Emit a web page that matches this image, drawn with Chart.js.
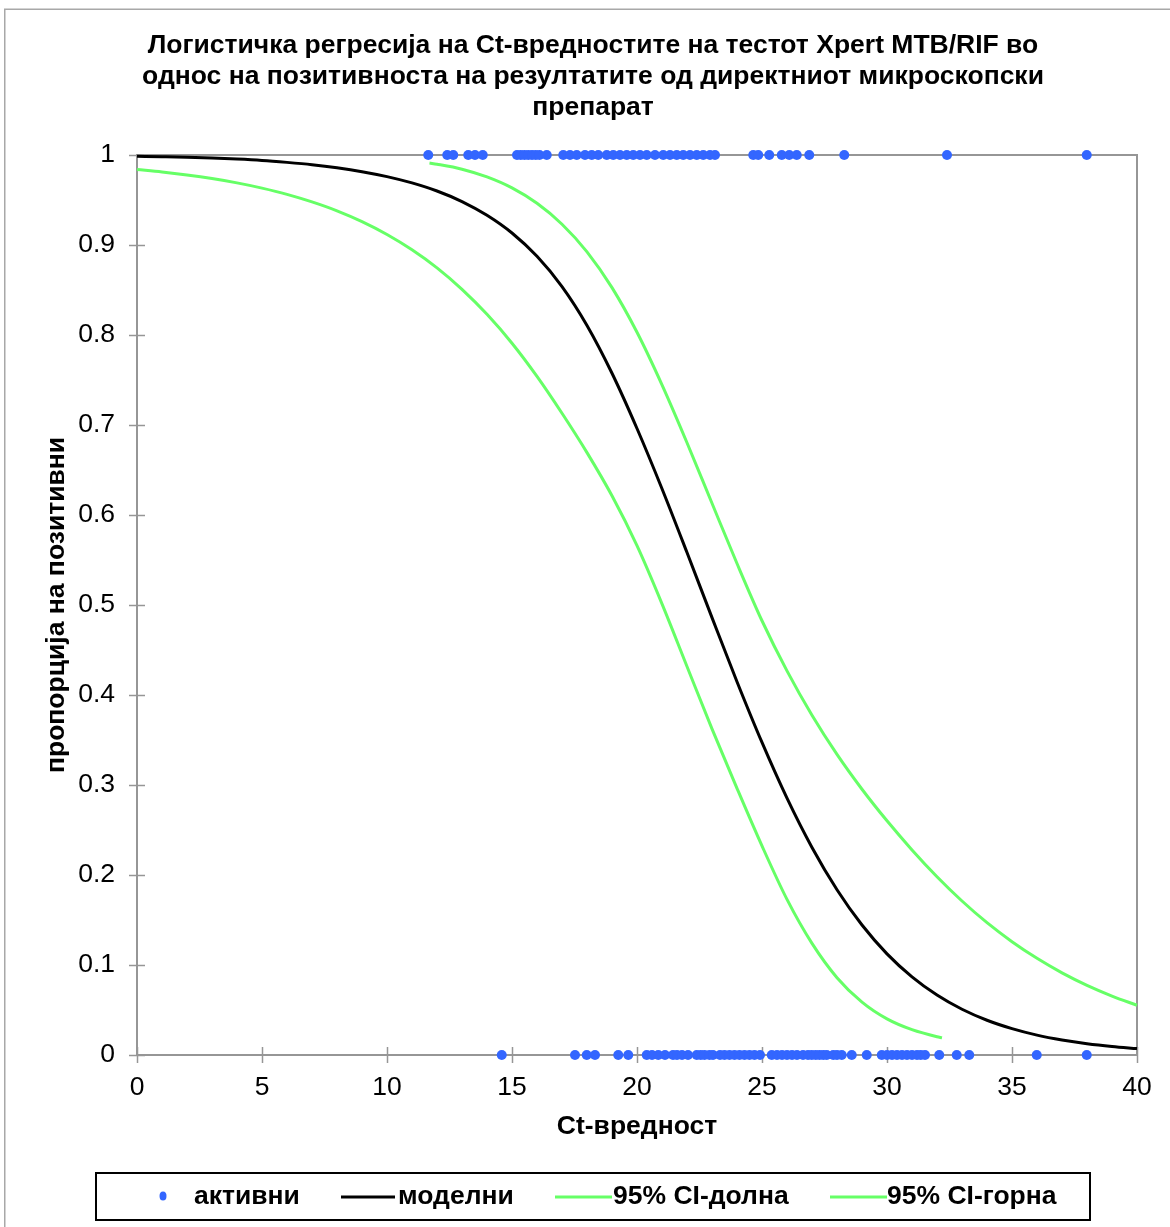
<!DOCTYPE html>
<html>
<head>
<meta charset="utf-8">
<script src="https://cdn.jsdelivr.net/npm/chart.js@4.4.1/dist/chart.umd.min.js"></script>
<style>
  html, body { margin: 0; padding: 0; background: #fff; }
  #wrap { width: 1170px; height: 1227px; position: relative; }
</style>
</head>
<body>
<div id="wrap"><canvas id="c" width="1170" height="1227"></canvas></div>
<script>
// Title and axis captions
const titleLines = [
  'Логистичка регресија на Ct-вредностите на тестот Xpert MTB/RIF во',
  'однос на позитивноста на резултатите од директниот микроскопски',
  'препарат'
];
const xAxisTitle = 'Ct-вредност';
const yAxisTitle = 'пропорција на позитивни';
const legendLabels = ['активни', 'моделни', '95% CI-долна', '95% CI-горна'];

// Observed Ct values of samples with a positive smear (plotted at 1)
const positiveCt = [
  11.65, 12.41, 12.65, 13.25, 13.52, 13.83,
  15.2, 15.35, 15.5, 15.65, 15.8, 15.95, 16.1, 16.39,
  17.05, 17.32, 17.59, 17.92, 18.19, 18.45, 18.79, 19.05, 19.32, 19.59,
  19.85, 20.12, 20.39, 20.72, 21.05, 21.32, 21.59, 21.85, 22.12, 22.39,
  22.65, 22.92, 23.12,
  24.65, 24.85, 25.29, 25.79, 26.09, 26.39, 26.89, 28.29, 32.4, 37.99
];
// Observed Ct values of samples with a negative smear (plotted at 0)
const negativeCt = [
  14.59, 17.52, 17.99, 18.32, 19.25, 19.65,
  20.39, 20.6, 20.85, 21.12, 21.44, 21.6, 21.8, 22.04, 22.39, 22.55, 22.7,
  22.9, 23.04, 23.32, 23.5, 23.7, 23.9, 24.1, 24.3, 24.5, 24.7, 24.92,
  25.39, 25.6, 25.8, 26.0, 26.2, 26.4, 26.64, 26.84, 26.99, 27.15, 27.3,
  27.45, 27.59, 27.85, 28.0, 28.19, 28.59, 29.19, 29.79, 30.0, 30.2, 30.4,
  30.6, 30.8, 31.0, 31.2, 31.35, 31.52, 32.09, 32.79, 33.29, 35.99, 37.99
];

// Fitted logistic model
const modelCt = [0, 1, 2, 3, 4, 5, 6, 7, 8, 9, 10, 11, 12, 13, 14, 15, 16, 17, 18, 19, 20,
  21, 22, 23, 24, 25, 26, 27, 28, 29, 30, 31, 32, 33, 34, 35, 36, 37, 38, 39, 40];
const modelP = [0.9986, 0.9981, 0.9975, 0.9966, 0.9955, 0.9940, 0.9918, 0.9892, 0.9858, 0.9815,
  0.9760, 0.9690, 0.9600, 0.9483, 0.9330, 0.9133, 0.8874, 0.8538, 0.8106, 0.7575,
  0.6961, 0.6292, 0.5583, 0.4860, 0.4148, 0.3473, 0.2854, 0.2306, 0.1836, 0.1444,
  0.1124, 0.0868, 0.0666, 0.0508, 0.0386, 0.0293, 0.0221, 0.0167, 0.0126, 0.0095, 0.0071];

// 95% confidence band, lower limit
const lowerCt = [0, 1, 2, 3, 4, 5, 6, 7, 8, 9, 10, 11, 12, 13, 14, 15, 16, 17, 18, 19, 20,
  21, 22, 23, 24, 25, 26, 27, 28, 29, 30, 31, 32, 32.2];
const lowerP = [0.9840, 0.9812, 0.9778, 0.9738, 0.9690, 0.9632, 0.9563, 0.9479, 0.9380, 0.9260,
  0.9117, 0.8947, 0.8746, 0.8508, 0.8230, 0.7909, 0.7540, 0.7130, 0.6693, 0.6213,
  0.5659, 0.5013, 0.4317, 0.3624, 0.2963, 0.2323, 0.1729, 0.1240, 0.0859, 0.0587,
  0.0401, 0.0281, 0.0203, 0.0192];

// 95% confidence band, upper limit
const upperCt = [11.7, 12, 13, 14, 15, 16, 17, 18, 19, 20, 21, 22, 23, 24, 25, 26, 27, 28, 29,
  30, 31, 32, 33, 34, 35, 36, 37, 38, 39, 40];
const upperP = [0.9910, 0.9897, 0.9842, 0.9756, 0.9634, 0.9463, 0.9231, 0.8924, 0.8526, 0.8030,
  0.7446, 0.6803, 0.6130, 0.5461, 0.4825, 0.4268, 0.3775, 0.3340, 0.2953, 0.2602,
  0.2279, 0.1981, 0.1711, 0.1470, 0.1259, 0.1074, 0.0913, 0.0774, 0.0655, 0.0553];

const FONT = "'Liberation Sans', Arial, sans-serif";
const DOT = '#3366ff';
const GREEN = '#66ff66';
const AXIS_GREY = '#969696';

const pairs = (xs, ys) => xs.map((x, i) => ({ x: x, y: ys[i] }));
const observed = positiveCt.map(x => ({ x: x, y: 1 }))
  .concat(negativeCt.map(x => ({ x: x, y: 0 })));

// Frame, crossing tick marks, title, axis captions and boxed legend
const decor = {
  id: 'decor',
  beforeDraw(chart) {
    const ctx = chart.ctx;
    ctx.save();
    ctx.fillStyle = '#fff';
    ctx.fillRect(0, 0, chart.width, chart.height);
    ctx.strokeStyle = '#a8a8a8';
    ctx.lineWidth = 1.5;
    ctx.strokeRect(4.75, 9.25, chart.width + 40, chart.height + 40);
    ctx.restore();
  },
  beforeDatasetsDraw(chart) {
    const { ctx, chartArea: a, scales } = chart;
    ctx.save();
    ctx.strokeStyle = AXIS_GREY;
    ctx.lineWidth = 2;
    ctx.strokeRect(a.left, a.top, a.right - a.left, a.bottom - a.top);
    ctx.lineWidth = 1.5;
    ctx.beginPath();
    scales.x.ticks.forEach(t => {
      const px = Math.round(scales.x.getPixelForValue(t.value)) + 0.5;
      ctx.moveTo(px, a.bottom - 8);
      ctx.lineTo(px, a.bottom + 8);
    });
    scales.y.ticks.forEach(t => {
      const py = Math.round(scales.y.getPixelForValue(t.value)) + 0.5;
      ctx.moveTo(a.left - 8, py);
      ctx.lineTo(a.left + 8, py);
    });
    ctx.stroke();
    ctx.restore();
  },
  afterDraw(chart) {
    const { ctx, chartArea: a } = chart;
    ctx.save();
    ctx.fillStyle = '#000';
    ctx.textAlign = 'center';
    ctx.textBaseline = 'middle';

    // chart title
    ctx.font = 'bold 26.5px ' + FONT;
    titleLines.forEach((line, i) => ctx.fillText(line, 593, 46 + i * 31));

    // axis captions
    ctx.fillText(xAxisTitle, (a.left + a.right) / 2, 1127);
    ctx.save();
    ctx.translate(57, (a.top + a.bottom) / 2);
    ctx.rotate(-Math.PI / 2);
    ctx.fillText(yAxisTitle, 0, 0);
    ctx.restore();

    // legend
    ctx.strokeStyle = '#000';
    ctx.lineWidth = 2;
    ctx.strokeRect(96, 1173, 994, 47);
    const ly = 1197;
    const ds = chart.data.datasets;
    ctx.textAlign = 'left';
    ctx.fillStyle = ds[0].backgroundColor;
    ctx.beginPath();
    ctx.ellipse(163, ly - 1, 3.5, 4.5, 0, 0, Math.PI * 2);
    ctx.fill();
    ctx.fillStyle = '#000';
    ctx.fillText(ds[0].label, 194, ly);
    const items = [[1, 341, 395, 398], [2, 555, 612, 613], [3, 830, 887, 887]];
    items.forEach(([i, x0, x1, tx]) => {
      ctx.strokeStyle = ds[i].borderColor;
      ctx.lineWidth = 3;
      ctx.beginPath();
      ctx.moveTo(x0, ly);
      ctx.lineTo(x1, ly);
      ctx.stroke();
      ctx.fillStyle = '#000';
      ctx.fillText(ds[i].label, tx, ly);
    });
    ctx.restore();
  }
};

const curve = (label, xs, ys, color) => ({
  type: 'line',
  label: label,
  data: pairs(xs, ys),
  borderColor: color,
  backgroundColor: color,
  borderWidth: 3,
  pointRadius: 0,
  pointHoverRadius: 0,
  fill: false,
  cubicInterpolationMode: 'monotone',
  clip: false
});

new Chart(document.getElementById('c'), {
  type: 'scatter',
  data: {
    datasets: [
      {
        label: legendLabels[0],
        data: observed,
        pointRadius: 5,
        pointHoverRadius: 5,
        pointBorderWidth: 0,
        backgroundColor: DOT,
        borderColor: DOT,
        showLine: false,
        clip: false
      },
      curve(legendLabels[1], modelCt, modelP, '#000000'),
      curve(legendLabels[2], lowerCt, lowerP, GREEN),
      curve(legendLabels[3], upperCt, upperP, GREEN)
    ]
  },
  options: {
    responsive: false,
    animation: false,
    devicePixelRatio: 1,
    layout: { padding: { left: 0, right: 33, top: 155, bottom: 0 } },
    plugins: {
      legend: { display: false },
      title: { display: false },
      tooltip: { enabled: false }
    },
    scales: {
      x: {
        type: 'linear',
        min: 0,
        max: 40,
        ticks: { stepSize: 5, color: '#000', font: { family: FONT, size: 26.5 }, padding: 17, maxRotation: 0 },
        grid: { display: false, drawTicks: false },
        border: { display: false },
        afterFit(scale) { scale.height = 172; }
      },
      y: {
        type: 'linear',
        min: 0,
        max: 1,
        ticks: {
          stepSize: 0.1,
          color: '#000',
          font: { family: FONT, size: 26.5 },
          padding: 22,
          callback: v => String(Number(v.toFixed(1)))
        },
        grid: { display: false, drawTicks: false },
        border: { display: false },
        afterFit(scale) { scale.width = 137; }
      }
    }
  },
  plugins: [decor]
});
</script>
</body>
</html>
